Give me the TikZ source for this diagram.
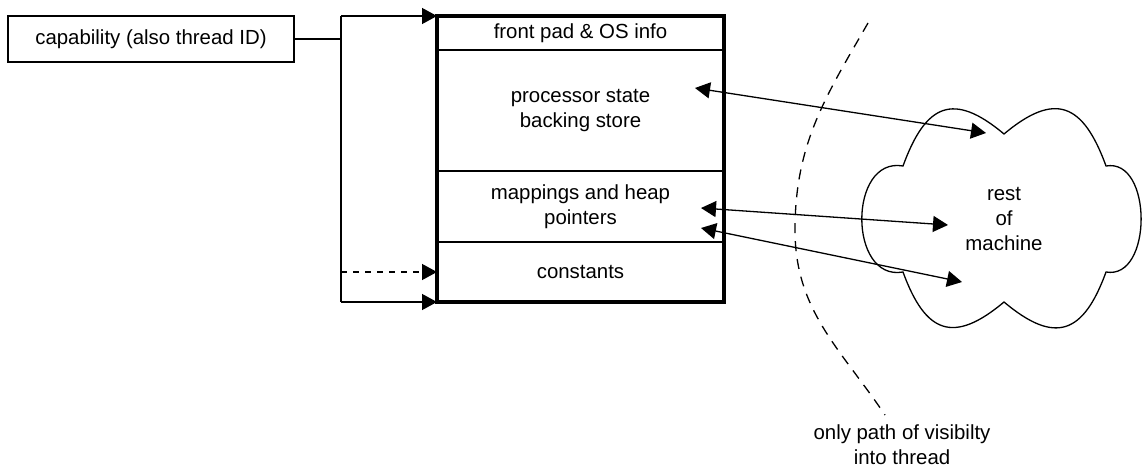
\documentclass[tikz,border=0pt]{standalone}
\usepackage{fontspec}
\setmainfont{Liberation Sans}
\usetikzlibrary{arrows.meta,positioning}

\begin{document}
\begin{tikzpicture}[x=0.5pt,y=-0.5pt,line width=0.65pt,
        >={Triangle[length=7.5pt,width=8pt]},
        every node/.style={font=\fontsize{10.2}{12.5}\selectfont,align=center},
        field/.style={draw,outer sep=0pt,inner sep=0pt,minimum width=143.5pt}]
        % Fix picture size
        \useasboundingbox (0,0) rectangle (1143,470);

        % Capability
        \node[draw,minimum width=143pt,minimum height=23pt] (cap) at (151,39) {capability (also thread ID)};

        % Thread record fields
        \node[field,minimum height=17pt,anchor=north west] (front) at (437,16) {front pad \& OS info};
        \node[field,minimum height=60.5pt,below=0pt of front] (procstate) {processor state\\backing store};
        \node[field,minimum height=35.5pt,below=0pt of procstate] (mappings) {mappings and heap\\pointers};
        \node[field,minimum height=30pt,below=0pt of mappings] (consts) {constants};
        \draw[line width=2pt] (front.north west) rectangle (consts.south east);

        % Capability points into the record
        \coordinate (bustop) at (341,16);
        \draw (cap.east) -- (cap.east -| bustop);
        \draw (bustop) -- (consts.south west -| bustop);
        \draw[->] (bustop) -- (front.north west);
        \draw[->,dashed] (consts.west -| bustop) -- (consts.west);
        \draw[->] (consts.south west -| bustop) -- (consts.south west);

        % Rest of machine
        \draw (1004,134) to[out=140,in=70,looseness=1.6] (903,166)
            to[out=170,in=190,looseness=1.35] (903,272)
            to[out=-70,in=-140,looseness=1.6] (1004,302)
            to[out=-40,in=-110,looseness=1.6] (1106,272)
            to[out=-10,in=10,looseness=1.15] (1106,166)
            to[out=110,in=40,looseness=1.6] cycle;
        \node (rest) at (1004,219) {rest\\of\\machine};

        % Visibility boundary
        \draw[dash pattern=on 5pt off 4pt] (868,23) to[out=-120,in=90] (795,230) to[out=-90,in=124] (885,415);
        \node (vis) at (902,445) {only path of visibilty\\into thread};

        % Paths across the boundary
        \coordinate (ps) at (695,88);
        \coordinate (mp1) at (701,208);
        \coordinate (mp2) at (701,228);
        \coordinate (r1) at (986,133);
        \coordinate (r2) at (948,225);
        \coordinate (r3) at (962,282);
        \draw[<->] (ps) -- (r1);
        \draw[<->] (mp1) -- (r2);
        \draw[<->] (mp2) -- (r3);

        \end{tikzpicture}
\end{document}
